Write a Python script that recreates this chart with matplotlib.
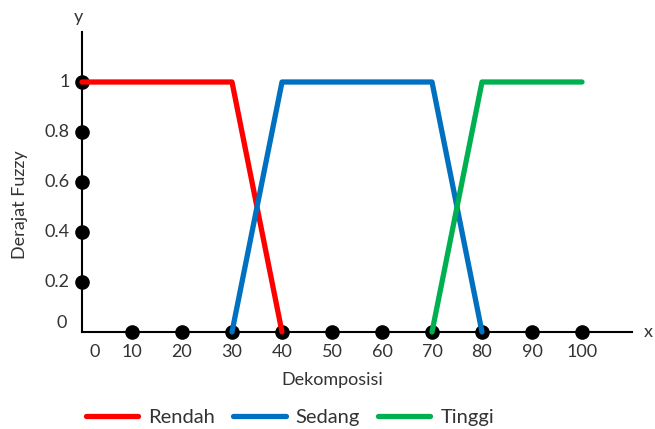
import matplotlib
matplotlib.use('Agg')
import matplotlib.pyplot as plt

plt.rcParams['font.family'] = ['Lato', 'DejaVu Sans']

# fungsi keanggotaan
rendah_x = [0, 30, 40]
rendah_y = [1, 1, 0]
sedang_x = [30, 40, 70, 80]
sedang_y = [0, 1, 1, 0]
tinggi_x = [70, 80, 100]
tinggi_y = [0, 1, 1]

x_ticks = [0, 10, 20, 30, 40, 50, 60, 70, 80, 90, 100]
y_ticks = [0, 0.2, 0.4, 0.6, 0.8, 1]
y_labels = ['0', '0.2', '0.4', '0.6', '0.8', '1']

fig = plt.figure(figsize=(6.55, 4.29), dpi=100)
ax = fig.add_axes([0, 0, 1, 1])
ax.set_xlim(-16.4, 114.6)
ax.set_ylim(-0.388, 1.328)

for s in ['top', 'right']:
    ax.spines[s].set_visible(False)
ax.spines['left'].set_position(('data', 0))
ax.spines['bottom'].set_position(('data', 0))
ax.spines['left'].set_bounds(0, 1.2)
ax.spines['bottom'].set_bounds(0, 110)
ax.spines['left'].set_linewidth(1.5)
ax.spines['bottom'].set_linewidth(1.5)
ax.set_xticks([])
ax.set_yticks([])
ax.patch.set_alpha(0)

# titik-titik pada sumbu
ax.plot(x_ticks[1:], [0] * 10, 'o', color='black', ms=9.5, zorder=2, clip_on=False)
ax.plot([0] * 5, y_ticks[1:], 'o', color='black', ms=9.5, zorder=2, clip_on=False)

ax.plot(rendah_x, rendah_y, color='#FF0000', lw=3.8, solid_capstyle='round', solid_joinstyle='round', zorder=3, label='Rendah')
ax.plot(sedang_x, sedang_y, color='#0070C0', lw=3.8, solid_capstyle='round', solid_joinstyle='round', zorder=3, label='Sedang')
ax.plot(tinggi_x, tinggi_y, color='#00B050', lw=3.8, solid_capstyle='round', solid_joinstyle='round', zorder=3, label='Tinggi')

fs = 13
tc = '#333333'
for v in x_ticks:
    xx = 2.6 if v == 0 else v
    ax.text(xx, -0.08, str(v), ha='center', va='center', fontsize=fs, color=tc)
for v, lab in zip(y_ticks, y_labels):
    if v == 0:
        ax.text(-4, 0.036, lab, ha='center', va='center', fontsize=fs, color=tc)
    else:
        ax.text(-2.4, v, lab, ha='right', va='center', fontsize=fs, color=tc)

ax.text(-0.8, 1.26, 'y', ha='center', va='center', fontsize=fs, color=tc)
ax.text(113.2, 0.0, 'x', ha='center', va='center', fontsize=fs, color=tc)
ax.text(-12.4, 0.508, 'Derajat Fuzzy', ha='center', va='center', rotation=90, fontsize=fs, color=tc)
ax.text(50, -0.192, 'Dekomposisi', ha='center', va='center', fontsize=fs, color=tc)

leg = ax.legend(loc='center', bbox_to_anchor=(290 / 655, 0.026), bbox_transform=fig.transFigure,
                ncol=3, frameon=False, fontsize=14.5, handlelength=2.6, handletextpad=0.5,
                columnspacing=0.9, borderpad=0, borderaxespad=0)
for t in leg.get_texts():
    t.set_color(tc)

fig.savefig('out.png', dpi=100)
